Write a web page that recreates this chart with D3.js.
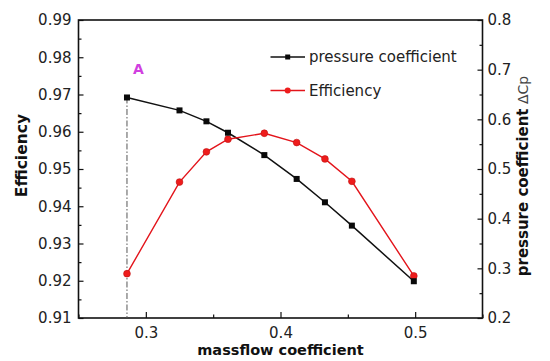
<!DOCTYPE html>
<html>
<head>
<meta charset="utf-8">
<script src="https://cdn.jsdelivr.net/npm/d3@7"></script>
<style>
  html, body { margin: 0; padding: 0; background: #fff; }
  svg { display: block; }
  text { font-family: "DejaVu Sans", sans-serif; fill: #222; }
</style>
</head>
<body>
<svg id="chart" width="550" height="361"></svg>
<script>
// ---- data ----
const massflow = [0.286, 0.325, 0.345, 0.361, 0.388, 0.412, 0.433, 0.453, 0.499];
const pressureCoef = [0.644, 0.618, 0.596, 0.573, 0.528, 0.480, 0.433, 0.386, 0.274];
const efficiency = [0.9219, 0.9465, 0.9546, 0.9580, 0.9596, 0.9571, 0.9527, 0.9467, 0.9213];
const xTicks = [0.3, 0.4, 0.5];
const xMinor = [0.25, 0.35, 0.45, 0.55];
const yLeftTicks = [0.91, 0.92, 0.93, 0.94, 0.95, 0.96, 0.97, 0.98, 0.99];
const yLeftMinor = [0.915, 0.925, 0.935, 0.945, 0.955, 0.965, 0.975, 0.985];
const yRightTicks = [0.2, 0.3, 0.4, 0.5, 0.6, 0.7, 0.8];
const yRightMinor = [0.25, 0.35, 0.45, 0.55, 0.65, 0.75];
const seriesNames = ["pressure coefficient", "Efficiency"];
const annotationLabel = "A";

// ---- layout ----
const L = 78.5, R = 482.5, T = 20, B = 318;
const svg = d3.select("#chart");

const x = d3.scaleLinear().domain([0.25, 0.55]).range([L, R]);
const yL = d3.scaleLinear().domain([0.91, 0.99]).range([B, T]);
const yR = d3.scaleLinear().domain([0.2, 0.8]).range([B, T]);

const fmt2 = d3.format(".2f"), fmt1 = d3.format(".1f");

function styleAxis(g) {
  g.select(".domain").remove();
  g.selectAll("line").attr("stroke", "#111").attr("stroke-width", 1.2);
  g.selectAll("text").attr("font-size", 15).attr("fill", "#333")
    .attr("font-family", "DejaVu Sans, sans-serif");
}

svg.append("g").attr("transform", `translate(0,${B})`)
  .call(d3.axisBottom(x).tickValues(xTicks).tickFormat(fmt1).tickSize(-6).tickPadding(9))
  .call(styleAxis);
svg.append("g").attr("transform", `translate(0,${B})`)
  .call(d3.axisBottom(x).tickValues(xMinor).tickFormat("").tickSize(-3.5))
  .call(styleAxis);

svg.append("g").attr("transform", `translate(${L},0)`)
  .call(d3.axisLeft(yL).tickValues(yLeftTicks).tickFormat(fmt2).tickSize(-5).tickPadding(7))
  .call(styleAxis);
svg.append("g").attr("transform", `translate(${L},0)`)
  .call(d3.axisLeft(yL).tickValues(yLeftMinor).tickFormat("").tickSize(-3))
  .call(styleAxis);

svg.append("g").attr("transform", `translate(${R},0)`)
  .call(d3.axisRight(yR).tickValues(yRightTicks).tickFormat(fmt1).tickSize(-5).tickPadding(5))
  .call(styleAxis);
svg.append("g").attr("transform", `translate(${R},0)`)
  .call(d3.axisRight(yR).tickValues(yRightMinor).tickFormat("").tickSize(-3))
  .call(styleAxis);

// frame
svg.append("rect").attr("x", L).attr("y", T).attr("width", R - L).attr("height", B - T)
  .attr("fill", "none").attr("stroke", "#111").attr("stroke-width", 1.6);

// dash-dot guide at first point
svg.append("line")
  .attr("x1", x(massflow[0])).attr("x2", x(massflow[0]))
  .attr("y1", yR(pressureCoef[0])).attr("y2", B)
  .attr("stroke", "#555").attr("stroke-width", 1)
  .attr("stroke-dasharray", "6,2,1.5,2");

// pressure coefficient series (right axis)
const pData = massflow.map((m, i) => [m, pressureCoef[i]]);
svg.append("path").datum(pData)
  .attr("fill", "none").attr("stroke", "#111").attr("stroke-width", 1.5)
  .attr("d", d3.line().x(d => x(d[0])).y(d => yR(d[1])));

// efficiency series (left axis)
const eData = massflow.map((m, i) => [m, efficiency[i]]);
svg.append("path").datum(eData)
  .attr("fill", "none").attr("stroke", "#e3141b").attr("stroke-width", 1.4)
  .attr("d", d3.line().x(d => x(d[0])).y(d => yL(d[1])));

svg.selectAll("circle.eff").data(eData).join("circle").attr("class", "eff")
  .attr("cx", d => x(d[0])).attr("cy", d => yL(d[1])).attr("r", 3.4)
  .attr("fill", "#ee1c1c").attr("stroke", "#c01010").attr("stroke-width", 0.6);

svg.selectAll("rect.pc").data(pData).join("rect").attr("class", "pc")
  .attr("x", d => x(d[0]) - 3).attr("y", d => yR(d[1]) - 3)
  .attr("width", 6).attr("height", 6).attr("fill", "#0a0a0a");

// annotation "A"
svg.append("text").text(annotationLabel)
  .attr("x", x(massflow[0]) + 11.5).attr("y", yL(0.9768))
  .attr("text-anchor", "middle").attr("dominant-baseline", "central")
  .attr("font-size", 14).attr("font-weight", "bold")
  .style("fill", "#d13fe0");

// legend
const lg = svg.append("g");
const legendRows = [
  { name: seriesNames[0], color: "#111", shape: "square", y: 57 },
  { name: seriesNames[1], color: "#e3141b", shape: "circle", y: 90.5 }
];
legendRows.forEach(r => {
  lg.append("line").attr("x1", 270.5).attr("x2", 305).attr("y1", r.y).attr("y2", r.y)
    .attr("stroke", r.color).attr("stroke-width", 1.5);
  if (r.shape === "square") {
    lg.append("rect").attr("x", 287.7 - 2.5).attr("y", r.y - 2.5).attr("width", 5).attr("height", 5)
      .attr("fill", "#0a0a0a");
  } else {
    lg.append("circle").attr("cx", 287.7).attr("cy", r.y).attr("r", 3)
      .attr("fill", "#ee1c1c");
  }
  lg.append("text").text(r.name).attr("x", 309).attr("y", r.y)
    .attr("dominant-baseline", "central").attr("font-size", 15).style("fill", "#222");
});

// axis titles
svg.append("text").text("massflow coefficient")
  .attr("x", (L + R) / 2).attr("y", 355).attr("text-anchor", "middle")
  .attr("font-size", 14.5).attr("font-weight", "bold").style("fill", "#111");

svg.append("text").text("Efficiency")
  .attr("transform", "translate(21.7,155.6) rotate(-90)")
  .attr("text-anchor", "middle").attr("dominant-baseline", "central")
  .attr("font-size", 15.5).attr("font-weight", "bold").style("fill", "#111");

const rt = svg.append("text")
  .attr("transform", "translate(523,176) rotate(-90)")
  .attr("text-anchor", "middle").attr("dominant-baseline", "central")
  .attr("font-size", 15).style("fill", "#111");
rt.append("tspan").text("pressure coefficient").attr("font-weight", "bold");
rt.append("tspan").text(" ΔCp").attr("font-weight", "normal").attr("font-size", 14).style("fill", "#444");
</script>
</body>
</html>
